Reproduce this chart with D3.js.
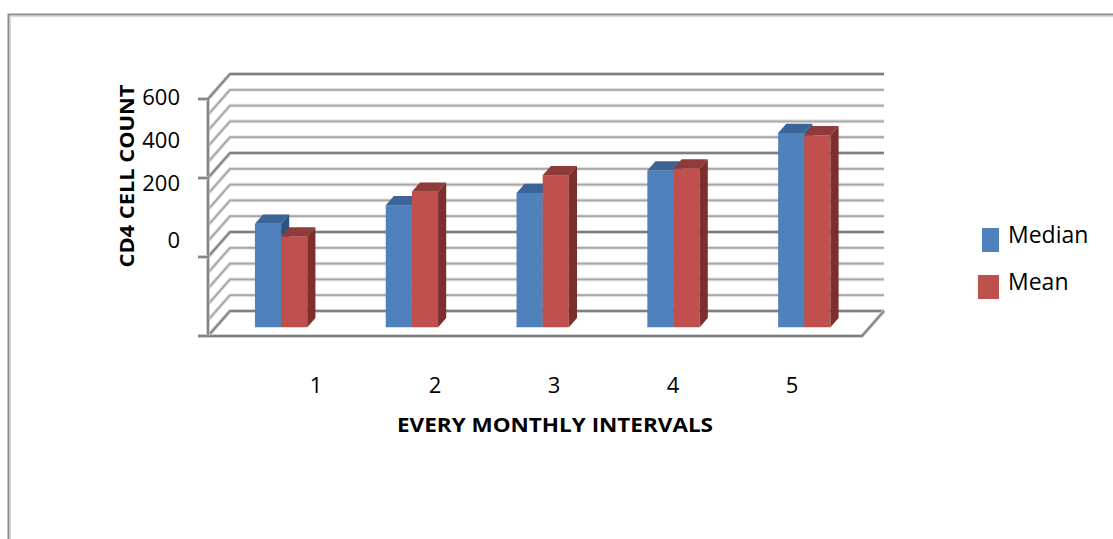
<!DOCTYPE html>
<html>
<head>
<meta charset="utf-8">
<script src="https://cdn.jsdelivr.net/npm/d3@7"></script>
<style>
  body { margin: 0; background: #fff; }
  svg { display: block; font-family: "Open Sans", "Liberation Sans", sans-serif; }
</style>
</head>
<body>
<script>
// chart values
var categories   = ["1", "2", "3", "4", "5"];
var seriesNames  = ["Median", "Mean"];
var medianValues = [262, 309, 340, 397, 492];
var meanValues   = [230, 343, 385, 402, 486];
var yTickValues  = [0, 200, 400, 600];
var yTickLabels  = ["0", "200", "400", "600"];
var xTitle = "EVERY MONTHLY INTERVALS",
    yTitle = "CD4 CELL COUNT";

var W = 1113, H = 539;

// Settings
var front  = { left: 208, right: 862, top: 99, bottom: 336 },
    depth  = { dx: 22, dy: -25 },
    barD   = { d0: 0.35, d1: 0.72 },
    colors = {
      Median: { face: "#4f81bd", top: "#3b6596", side: "#2f5380" },
      Mean:   { face: "#c0504d", top: "#8f3b39", side: "#7d2f2d" }
    };

var svg = d3.select("body").append("svg")
  .attr("width", W)
  .attr("height", H);

// outer chart frame
svg.append("path")
  .attr("d", "M8.5," + H + "V14.5H" + W)
  .attr("fill", "none")
  .attr("stroke", "#8c8c8c")
  .attr("stroke-width", 2);
svg.append("path")
  .attr("d", "M10.5," + H + "V16.5H" + W)
  .attr("fill", "none")
  .attr("stroke", "#d9d9d9")
  .attr("stroke-width", 1);

var y = d3.scaleLinear().domain([0, 600]).range([front.bottom, front.top]);

var x = d3.scaleBand().domain(categories)
  .range([front.left, front.right])
  .paddingInner(0.6).paddingOuter(0.3);

var xs = d3.scaleBand().domain(seriesNames).range([0, x.bandwidth()]);

// soft line: light halo under a darker core, like the excel 3d gridlines
function softLine(g, d, major){
  g.append("path").attr("d", d).attr("fill", "none")
    .attr("stroke", major ? "#c4c4c4" : "#dedede").attr("stroke-width", 3.6)
    .attr("stroke-linejoin", "round");
  g.append("path").attr("d", d).attr("fill", "none")
    .attr("stroke", major ? "#7f7f7f" : "#a8a8a8").attr("stroke-width", 1.8)
    .attr("stroke-linejoin", "round");
}

// gridlines: back wall + left wall
var gridVals = d3.range(0, 601, 40);
var grid = svg.append("g").attr("class", "grid");

gridVals.forEach(function(v){
  var major = (v % 200 === 0);
  var yb = y(v) + depth.dy;
  softLine(grid,
    "M" + front.left + "," + y(v) +
    "L" + (front.left + depth.dx) + "," + yb +
    "H" + (front.right + depth.dx), major);
});

// floor
softLine(grid,
  "M" + (front.left - 10) + "," + front.bottom +
  "H" + front.right +
  "L" + (front.right + depth.dx) + "," + (front.bottom + depth.dy), true);

// front axis line and ticks
softLine(grid, "M" + front.left + "," + y(600) + "V" + y(0), true);

yTickValues.forEach(function(v){
  softLine(grid, "M" + (front.left - 10) + "," + y(v) + "H" + front.left, true);
});

// bars
var rows = [];
categories.forEach(function(c, i){
  rows.push({ cat: c, s: "Median", v: medianValues[i] });
  rows.push({ cat: c, s: "Mean",   v: meanValues[i] });
});

var bdx = depth.dx * (barD.d1 - barD.d0),
    bdy = depth.dy * (barD.d1 - barD.d0),
    w   = xs.bandwidth();

var bars = svg.append("g").selectAll("g.bar").data(rows).enter().append("g").attr("class", "bar");

function bx(d){ return x(d.cat) + xs(d.s) + depth.dx * barD.d0; }
function byTop(d){ return y(d.v) + depth.dy * barD.d0; }
function byBot(){ return y(0) + depth.dy * barD.d0; }

bars.append("rect")
  .attr("x", bx)
  .attr("y", byTop)
  .attr("width", w)
  .attr("height", function(d){ return byBot() - byTop(d); })
  .attr("fill", function(d){ return colors[d.s].face; });

bars.append("path")
  .attr("d", function(d){
    var x0 = bx(d), yt = byTop(d);
    return "M" + x0 + "," + yt + "L" + (x0 + w) + "," + yt +
           "L" + (x0 + w + bdx) + "," + (yt + bdy) +
           "L" + (x0 + bdx) + "," + (yt + bdy) + "Z";
  })
  .attr("fill", function(d){ return colors[d.s].top; });

bars.append("path")
  .attr("d", function(d){
    var x0 = bx(d) + w, yt = byTop(d), yb = byBot();
    return "M" + x0 + "," + yt + "L" + (x0 + bdx) + "," + (yt + bdy) +
           "L" + (x0 + bdx) + "," + (yb + bdy) + "L" + x0 + "," + yb + "Z";
  })
  .attr("fill", function(d){ return colors[d.s].side; });

// y tick labels (sit where the original put them)
var labelY = d3.scaleLinear().domain([0, 200, 600]).range([240, 183, 97]);
svg.append("g").selectAll("text").data(yTickValues).enter().append("text")
  .attr("x", 180)
  .attr("y", function(d){ return labelY(d); })
  .attr("dy", "0.35em")
  .attr("text-anchor", "end")
  .attr("font-size", 22)
  .attr("fill", "#000")
  .text(function(d, i){ return yTickLabels[i]; });

// x labels
var labelX = d3.scalePoint().domain(categories).range([316, 792]);
svg.append("g").selectAll("text").data(categories).enter().append("text")
  .attr("x", function(d){ return labelX(d); })
  .attr("y", 385)
  .attr("dy", "0.35em")
  .attr("text-anchor", "middle")
  .attr("font-size", 22)
  .text(function(d){ return d; });

// axis titles
svg.append("text")
  .attr("x", 555).attr("y", 425)
  .attr("dy", "0.35em")
  .attr("text-anchor", "middle")
  .attr("font-size", 20)
  .attr("font-weight", "bold")
  .attr("textLength", 316)
  .attr("lengthAdjust", "spacingAndGlyphs")
  .text(xTitle);

svg.append("text")
  .attr("transform", "translate(127,176) rotate(-90)")
  .attr("dy", "0.35em")
  .attr("text-anchor", "middle")
  .attr("font-size", 20)
  .attr("font-weight", "bold")
  .attr("textLength", 183)
  .attr("lengthAdjust", "spacingAndGlyphs")
  .text(yTitle);

// legend
var legend = svg.append("g").selectAll("g").data(seriesNames).enter().append("g")
  .attr("transform", function(d, i){ return "translate(0," + (i * 47) + ")"; });

legend.append("rect")
  .attr("x", function(d, i){ return i ? 978 : 982; })
  .attr("y", 228)
  .attr("width", function(d, i){ return i ? 21 : 17; })
  .attr("height", 24)
  .attr("fill", function(d){ return colors[d].face; });

legend.append("text")
  .attr("x", 1008).attr("y", 243)
  .attr("font-size", 23)
  .text(function(d){ return d; });
</script>
</body>
</html>
